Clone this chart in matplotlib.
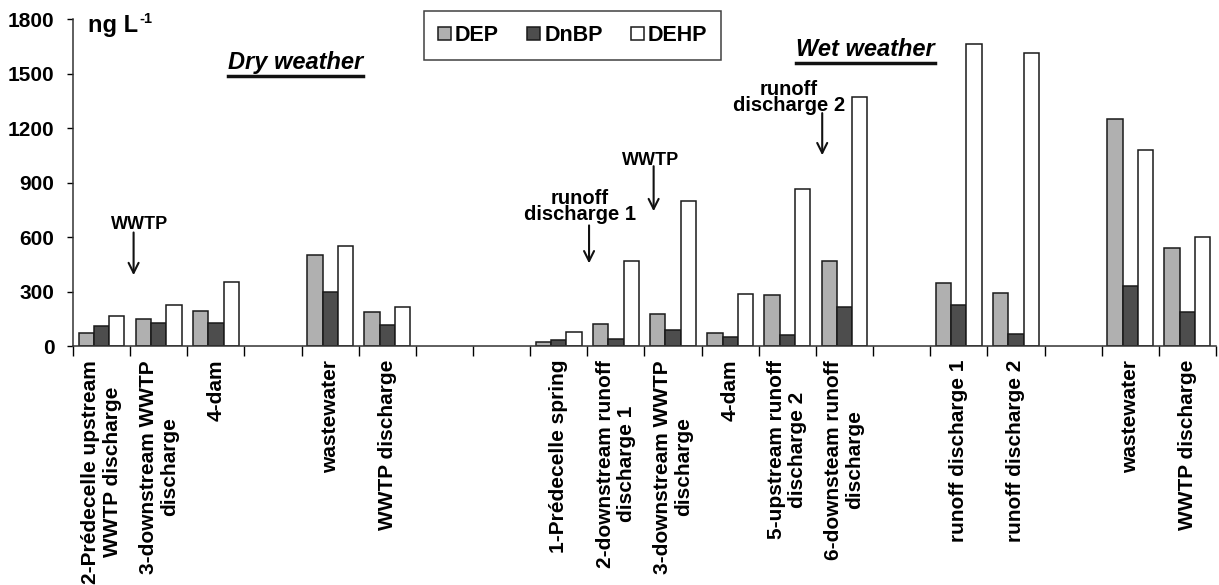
import numpy as np
import matplotlib
matplotlib.use('Agg')
import matplotlib.pyplot as plt
from matplotlib.lines import Line2D

plt.rcParams['font.family'] = ['Liberation Sans', 'DejaVu Sans']
plt.rcParams['font.weight'] = 'bold'

# Dados (células vazias = espaço entre grupos)
locais = ['2-Prédecelle upstream\nWWTP discharge', '3-downstream WWTP\ndischarge', '4-dam', '',
          'wastewater', 'WWTP discharge', '', '',
          '1-Prédecelle spring', '2-downstream runoff\ndischarge 1', '3-downstream WWTP\ndischarge',
          '4-dam', '5-upstream runoff\ndischarge 2', '6-downsteam runoff\ndischarge', '',
          'runoff discharge 1', 'runoff discharge 2', '', 'wastewater', 'WWTP discharge']
dep = [74, 151, 195, None, 500, 187, None, None,
       22, 121, 175, 72, 279, 468, None, 345, 292, None, 1251, 538]
dnbp = [108, 127, 127, None, 300, 116, None, None,
        31, 39, 90, 50, 63, 217, None, 228, 66, None, 333, 190]
dehp = [167, 226, 353, None, 553, 213, None, None,
        77, 468, 799, 287, 863, 1369, None, 1664, 1614, None, 1077, 601]
series = ['DEP', 'DnBP', 'DEHP']
cores = ['#b0b0b0', '#4d4d4d', '#ffffff']
yticks = [0, 300, 600, 900, 1200, 1500, 1800]


def valores(lista):
    return np.array([np.nan if v is None else v for v in lista], dtype=float)


fig = plt.figure(figsize=(12.19, 5.85), dpi=100)
ax = fig.add_axes([0.0599, 0.4085, 0.9376, 0.559])

x = np.arange(len(locais)) + 0.5
w = 0.267
for k, (nome, dados, cor) in enumerate(zip(series, [dep, dnbp, dehp], cores)):
    ax.bar(x + (k - 1) * w, valores(dados), width=w, color=cor,
           edgecolor='#1a1a1a', linewidth=1.1, label=nome)

ax.set_xlim(0, len(locais))
ax.set_ylim(0, 1800)
ax.set_yticks(yticks)
ax.set_yticklabels([str(v) for v in yticks], fontsize=15, fontweight='bold')
ax.tick_params(axis='y', direction='out', length=4.3, width=1, pad=9)

# ticks do eixo x nas fronteiras, rótulos no centro
ax.set_xticks(np.arange(len(locais) + 1), minor=True)
ax.set_xticks(x)
ax.set_xticklabels(locais, rotation=90, fontsize=15, fontweight='bold',
                   va='top', ha='center', multialignment='center', linespacing=1.15)
ax.tick_params(axis='x', which='major', length=0, pad=10)
ax.tick_params(axis='x', which='minor', direction='out', length=7, width=1)

for s in ['top', 'right']:
    ax.spines[s].set_visible(False)
for s in ['left', 'bottom']:
    ax.spines[s].set_linewidth(1.1)
    ax.spines[s].set_color('#333333')

unidade = ax.text(0.27, 1767, 'ng L', fontsize=17, fontweight='bold', ha='left', va='center')

# títulos sublinhados
titulos = []
titulos.append(ax.text(3.89, 1560, 'Dry weather', fontsize=17, fontweight='bold',
                       style='italic', ha='center', va='center'))
titulos.append(ax.text(13.87, 1632, 'Wet weather', fontsize=17, fontweight='bold',
                       style='italic', ha='center', va='center'))

# anotações com setas
anot = [
    ('WWTP', 1.16, 670, 1.06, 625, 390, 13),
    ('runoff\ndischarge 1', 8.87, 770, 9.03, 664, 455, 14.5),
    ('WWTP', 10.10, 1023, 10.16, 990, 742, 13),
    ('runoff\ndischarge 2', 12.53, 1366, 13.11, 1282, 1050, 14.5),
]
for txt, tx, ty, axx, y0, y1, fs in anot:
    ax.text(tx, ty, txt, fontsize=fs, fontweight='bold', ha='center', va='center',
            linespacing=0.8)
    ax.annotate('', xy=(axx, y1), xytext=(axx, y0),
                arrowprops=dict(arrowstyle='->', color='#111111', lw=1.5,
                                mutation_scale=18, shrinkA=0, shrinkB=0))

leg = ax.legend(loc='upper center', bbox_to_anchor=(0.4697, 0.981), bbox_transform=fig.transFigure,
                ncol=3, frameon=True, fancybox=False, edgecolor='#111111',
                prop={'size': 15.5, 'weight': 'bold'}, handlelength=0.6, handleheight=0.6,
                handletextpad=0.2, columnspacing=1.3, borderpad=0.65, borderaxespad=0)
leg.get_frame().set_linewidth(1.1)

fig.canvas.draw()
r = fig.canvas.get_renderer()
inv = fig.transFigure.inverted()
for t in titulos:
    bb = t.get_window_extent(renderer=r).transformed(inv)
    yl = bb.y0 - 0.004
    fig.add_artist(Line2D([bb.x0, bb.x1], [yl, yl], color='#111111', lw=2.5,
                          transform=fig.transFigure))

# expoente -1 da unidade
bb = unidade.get_window_extent(renderer=r).transformed(inv)
fig.text(bb.x1 + 0.001, bb.y1 + 0.003, '-1', fontsize=10.5, fontweight='bold', ha='left', va='top')

fig.savefig('out.png', dpi=100)
